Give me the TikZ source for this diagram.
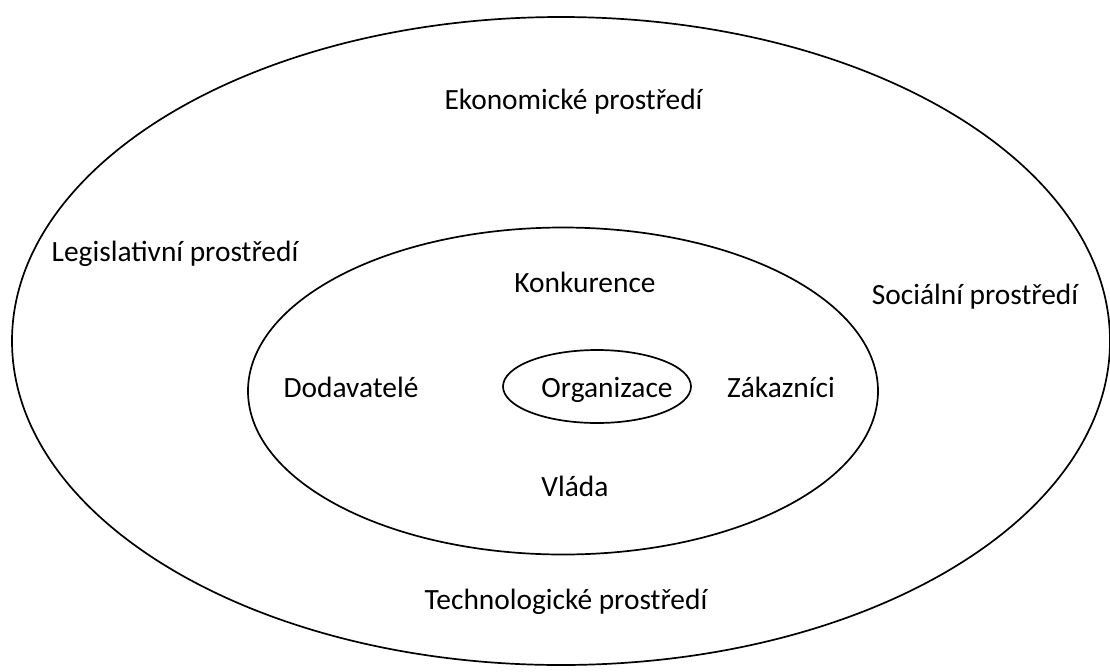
\documentclass[tikz,border=0pt]{standalone}
\usepackage{fontspec}
\setmainfont{Carlito}
\usetikzlibrary{shapes.geometric}

\begin{document}
\begin{tikzpicture}[
      x=0.5pt, y=-0.5pt,
      ring/.style={
        ellipse, draw=black, line width=0.85pt, inner sep=0pt
      },
      lbl/.style={
        inner sep=0pt, text=black, font=\fontsize{14.7pt}{17pt}\selectfont
      }
    ]
      \useasboundingbox (0,0) rectangle (1110,671);

      % three nested rings
      \node[ring, minimum width=1098*0.5pt, minimum height=648*0.5pt] (outer) at (561,341) {};
      \node[ring, minimum width=630*0.5pt, minimum height=327*0.5pt] (middle) at (563,391) {};
      \node[ring, minimum width=188*0.5pt, minimum height=73*0.5pt] (inner) at (597,386.5) {};

      % outer ring labels
      \node[lbl] (econ) at (573.5,102) {Ekonomické prostředí};
      \node[lbl] (legis) at (175,254) {Legislativní prostředí};
      \node[lbl] (social) at (975,297) {Sociální prostředí};
      \node[lbl] (tech) at (566,602) {Technologické prostředí};

      % middle ring labels
      \node[lbl] (konk) at (585,282) {Konkurence};
      \node[lbl, anchor=base] (dodav) at (351,397) {Dodavatelé};
      \node[lbl, anchor=base] (zakaz) at (781,397) {Zákazníci};
      \node[lbl] (vlada) at (575,486) {Vláda};

      % core
      \node[lbl, anchor=base] (org) at (607,397) {Organizace};
    \end{tikzpicture}
\end{document}
